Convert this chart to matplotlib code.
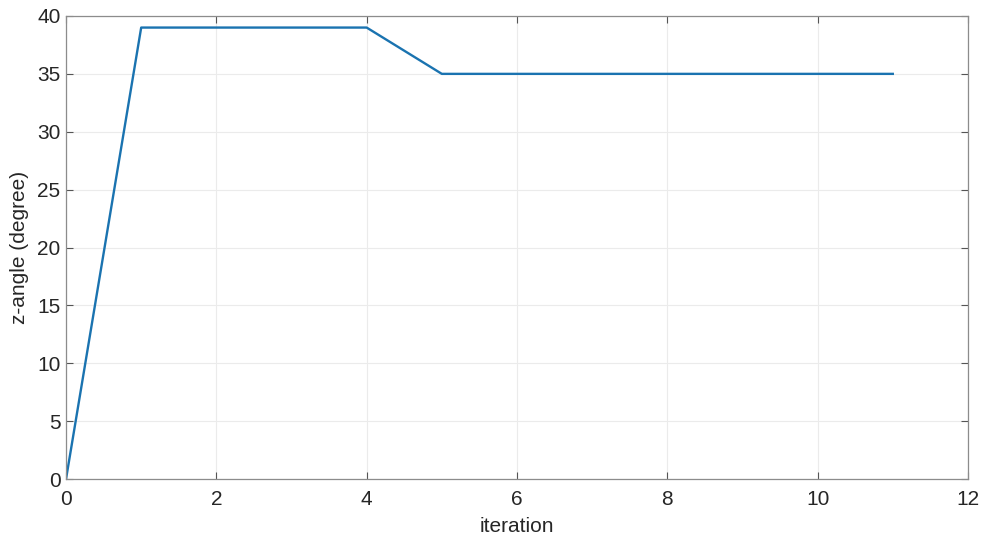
import matplotlib
matplotlib.use("Agg")
import matplotlib.pyplot as plt

# z-angle per iteration
iterations = [0, 1, 2, 3, 4, 5, 6, 7, 8, 9, 10, 11]
z_angle = [0, 39, 39, 39, 39, 35, 35, 35, 35, 35, 35, 35]

x_ticks = [0, 2, 4, 6, 8, 10, 12]
y_ticks = [0, 5, 10, 15, 20, 25, 30, 35, 40]

plt.rcParams["font.family"] = ["Liberation Sans", "DejaVu Sans"]

fig = plt.figure(figsize=(9.87, 5.42), dpi=100)
ax = fig.add_axes([0.0669, 0.1162, 0.9138, 0.8543])

ax.plot(iterations, z_angle, color="#1a73b0", linewidth=1.7)

ax.set_xlim(0, 12)
ax.set_ylim(0, 40)
ax.set_xticks(x_ticks)
ax.set_yticks(y_ticks)
ax.grid(True, color="#ebebeb", linewidth=0.8)
ax.set_axisbelow(True)

for s in ax.spines.values():
    s.set_color("#8c8c8c")
    s.set_linewidth(0.9)

ax.tick_params(direction="in", length=5, width=0.8, color="#555555",
               labelsize=15, labelcolor="#262626", top=True, right=True)
ax.tick_params(axis="x", pad=8)
ax.tick_params(axis="y", pad=4)

ax.set_xlabel("iteration", fontsize=15, color="#262626", labelpad=6)
ax.set_ylabel("z-angle (degree)", fontsize=15, color="#262626", labelpad=6)

fig.savefig("out.png", dpi=100, facecolor="white")
